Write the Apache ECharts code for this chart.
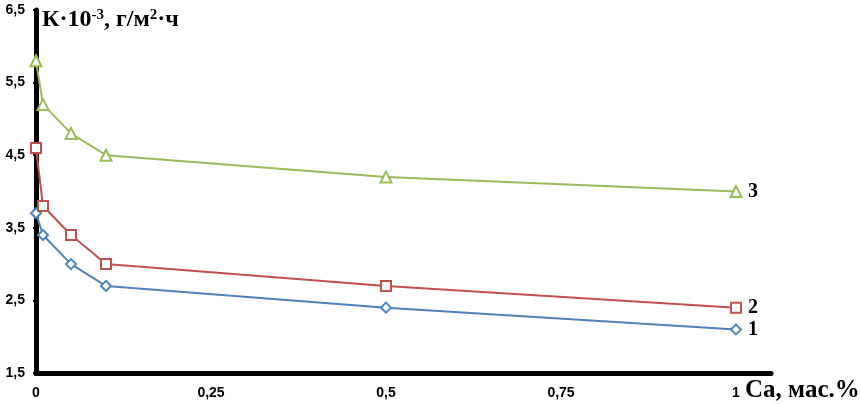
<!DOCTYPE html>
<html>
<head>
<meta charset="utf-8">
<script src="https://cdn.jsdelivr.net/npm/echarts@6/dist/echarts.min.js"></script>
<style>html,body{margin:0;padding:0;background:#fff}#c{width:861px;height:404px}</style>
</head>
<body>
<div id="c"></div>
<script>
const xValues = [0, 0.01, 0.05, 0.1, 0.5, 1];
const series1 = [3.7, 3.4, 3.0, 2.7, 2.4, 2.1];
const series2 = [4.6, 3.8, 3.4, 3.0, 2.7, 2.4];
const series3 = [5.8, 5.2, 4.8, 4.5, 4.2, 4.0];
const xTicks = [0, 0.25, 0.5, 0.75, 1];
const yTicks = [1.5, 2.5, 3.5, 4.5, 5.5, 6.5];
const seriesNames = ['1', '2', '3'];

const fmt = v => String(v).replace('.', ',');
const chart = echarts.init(document.getElementById('c'));
function mk(name, vals, color, symbol, size) {
  return {
    name: name, type: 'line', data: xValues.map((x, i) => [x, vals[i]]),
    symbol: symbol, symbolSize: size, showAllSymbol: true,
    lineStyle: {color: color, width: 2},
    itemStyle: {color: '#fff', borderColor: color, borderWidth: 2},
    emphasis: {disabled: true},
    endLabel: {show: true, formatter: name, distance: 12, color: '#000',
      fontFamily: 'Liberation Serif', fontWeight: 'bold', fontSize: 20},
    z: 5
  };
}
chart.setOption({
  animation: false,
  grid: {left: 36, top: 10, width: 735, bottom: 31},
  xAxis: {
    type: 'value', min: 0, max: 1.05,
    axisLine: {lineStyle: {color: '#000', width: 5}},
    axisTick: {show: true, length: 3, lineStyle: {color: '#000', width: 2}, customValues: xTicks},
    axisLabel: {customValues: xTicks, formatter: fmt, margin: 13, color: '#000',
      fontFamily: 'Liberation Sans', fontWeight: 'bold', fontSize: 14},
    splitLine: {show: false}
  },
  yAxis: {
    type: 'value', min: 1.5, max: 6.5,
    axisLine: {show: true, lineStyle: {color: '#000', width: 5}},
    axisTick: {show: true, length: 3, lineStyle: {color: '#000', width: 2}, customValues: yTicks},
    axisLabel: {customValues: yTicks, formatter: fmt, margin: 11, color: '#000',
      fontFamily: 'Liberation Sans', fontWeight: 'bold', fontSize: 14},
    splitLine: {show: false}
  },
  series: [
    mk(seriesNames[0], series1, '#4F81BD', 'diamond', 10),
    mk(seriesNames[1], series2, '#C0504D', 'rect', 10),
    mk(seriesNames[2], series3, '#9BBB59', 'triangle', 11)
  ],
  graphic: [
    {type: 'text', left: 42, top: 3, style: {
      text: '{n|К·10}{s|-3}{n|, г/м}{s|2}{n|·ч}',
      rich: {
        n: {fontFamily: 'Liberation Serif', fontWeight: 'bold', fontSize: 24, fill: '#000', verticalAlign: 'bottom', lineHeight: 29},
        s: {fontFamily: 'Liberation Serif', fontWeight: 'bold', fontSize: 15, fill: '#000', verticalAlign: 'top', lineHeight: 15, padding: [5,0,0,0]}
      }}},
    {type: 'text', left: 745, top: 378, style: {
      text: 'Ca, мас.%', fontFamily: 'Liberation Serif', fontWeight: 'bold', fontSize: 25, fill: '#000'}}
  ]
});
</script>
</body>
</html>
